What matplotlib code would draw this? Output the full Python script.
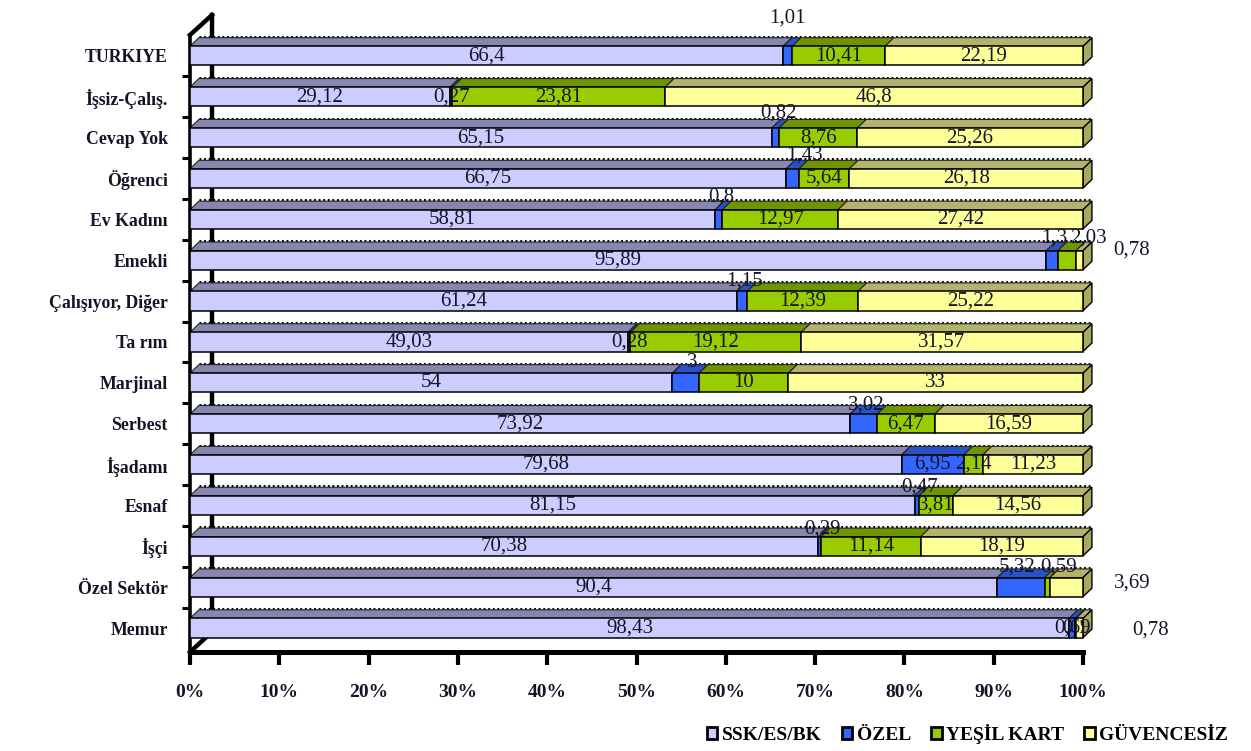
import matplotlib
matplotlib.use("Agg")
import matplotlib.pyplot as plt
from matplotlib.patches import Polygon, Patch
import numpy as np

# ---------------- data ----------------
categories = ["TURKIYE", "İşsiz-Çalış.", "Cevap Yok", "Öğrenci", "Ev Kadını", "Emekli",
              "Çalışıyor, Diğer", "Ta rım", "Marjinal", "Serbest", "İşadamı", "Esnaf",
              "İşçi", "Özel Sektör", "Memur"]
series_names = ["SSK/ES/BK", "ÖZEL", "YEŞİL KART", "GÜVENCESİZ"]
ssk = [66.4, 29.12, 65.15, 66.75, 58.81, 95.89, 61.24, 49.03, 54, 73.92, 79.68, 81.15, 70.38, 90.4, 98.43]
ozel = [1.01, 0.27, 0.82, 1.43, 0.8, 1.3, 1.15, 0.28, 3, 3.02, 6.95, 0.47, 0.29, 5.32, 0.69]
yesil = [10.41, 23.81, 8.76, 5.64, 12.97, 2.03, 12.39, 19.12, 10, 6.47, 2.14, 3.81, 11.14, 0.59, 0.1]
guvencesiz = [22.19, 46.8, 25.26, 26.18, 27.42, 0.78, 25.22, 31.57, 33, 16.59, 11.23, 14.56, 18.19, 3.69, 0.78]
xtick_labels = ["0%", "10%", "20%", "30%", "40%", "50%", "60%", "70%", "80%", "90%", "100%"]

# ---------------- style ----------------
front_cols = ["#CCCCFF", "#3366FF", "#99CC00", "#FFFF99"]
top_cols = ["#8686B0", "#2A52C8", "#6E9400", "#B3B36E"]
side_col = "#A8A860"
txt_col = "#141428"
serif = ["Liberation Serif", "DejaVu Serif"]

# label placement tweaks: (row, seg) -> (dx, dy) in data units
label_offsets = {
    (0, 1): (0, 0.93),
    (2, 1): (0.3, 0.6), (3, 1): (1.3, 0.57), (4, 1): (0.3, 0.55),
    (5, 1): (0.3, 0.55), (5, 2): (2.4, 0.55), (5, 3): (5.8, 0.25),
    (6, 1): (0.3, 0.5), (8, 1): (0.7, 0.5), (9, 1): (0.3, 0.45),
    (11, 1): (0.3, 0.45), (12, 1): (0.3, 0.42),
    (13, 1): (-0.4, 0.5), (13, 2): (1.3, 0.5), (13, 3): (7.4, 0.1),
    (14, 3): (7.9, -0.05),
}

fig = plt.figure(figsize=(12.51, 7.51), dpi=100)
ax = fig.add_axes([190 / 1251, 99 / 751, 893 / 1251, 637 / 751])
n = len(categories)
ylo, yhi = -0.587, 15.0
ax.set_xlim(0, 100)
ax.set_ylim(ylo, yhi)

h = 0.47
ddx, ddy = 1.0, 0.21
wall_x = 2.46

# back wall / 3D frame
ax.plot([wall_x, wall_x], [ylo + 0.49, yhi], color="black", lw=3.2, zorder=0.5, clip_on=False)
ax.plot([0, wall_x], [14.51, yhi], color="black", lw=3.2, zorder=0.5, clip_on=False)
ax.plot([0, wall_x], [ylo, ylo + 0.49], color="black", lw=3.2, zorder=0.5, clip_on=False)

data = np.array([ssk, ozel, yesil, guvencesiz])
for i in range(n):
    y = n - 1 - i
    left = 0.0
    # dotted back edge
    ax.plot([ddx, 100 + ddx], [y + h / 2 + ddy + 0.02] * 2, color="black",
            lw=2.2, ls=(0, (0.6, 0.9)), zorder=1, clip_on=False)
    for s in range(4):
        w = data[s, i]
        ax.barh(y, w, left=left, height=h, color=front_cols[s], edgecolor="black",
                linewidth=1.1, zorder=3, clip_on=False)
        top = Polygon([(left, y + h / 2), (left + w, y + h / 2),
                       (left + w + ddx, y + h / 2 + ddy), (left + ddx, y + h / 2 + ddy)],
                      closed=True, facecolor=top_cols[s], edgecolor="#222222",
                      linewidth=0.8, zorder=2, clip_on=False)
        ax.add_patch(top)
        dx, dy = label_offsets.get((i, s), (0, 0))
        val = ("%g" % w).replace(".", ",")
        ax.text(left + w / 2 + dx, y + dy, val, ha="center", va="center",
                fontsize=15, family=serif, color=txt_col, zorder=6, clip_on=False)
        left += w
    side = Polygon([(left, y - h / 2), (left, y + h / 2),
                    (left + ddx, y + h / 2 + ddy), (left + ddx, y - h / 2 + ddy)],
                   closed=True, facecolor=side_col, edgecolor="black",
                   linewidth=1.0, zorder=2.5, clip_on=False)
    ax.add_patch(side)

# axes
for sp in ["top", "right"]:
    ax.spines[sp].set_visible(False)
ax.spines["bottom"].set_linewidth(3.6)
ax.spines["left"].set_linewidth(2.6)
ax.spines["left"].set_bounds(ylo, 14.51)
ax.set_xticks(np.arange(0, 101, 10))
ax.set_xticklabels(xtick_labels, fontsize=14, fontweight="bold", family=serif, color=txt_col)
ax.tick_params(axis="x", direction="out", length=9, width=3, pad=14)
ax.set_yticks(np.arange(n))
ax.set_yticklabels(categories[::-1], fontsize=12.8, fontweight="bold", family=serif, color=txt_col)
ax.tick_params(axis="y", which="major", length=0, pad=16)
ax.set_yticks(np.arange(n - 1) + 0.5, minor=True)
ax.tick_params(axis="y", which="minor", direction="out", length=6, width=2.2)

# legend
handles = [Patch(facecolor=c, edgecolor="black", linewidth=2) for c in front_cols]
fig.legend(handles, series_names, loc="lower right", bbox_to_anchor=(1240 / 1251, -0.006),
           ncol=4, frameon=False, handlelength=0.55, handleheight=0.55, handletextpad=0.25,
           columnspacing=1.0, borderpad=0.1,
           prop={"family": serif, "weight": "bold", "size": 14})

fig.savefig("out.png", dpi=100, facecolor="white")
